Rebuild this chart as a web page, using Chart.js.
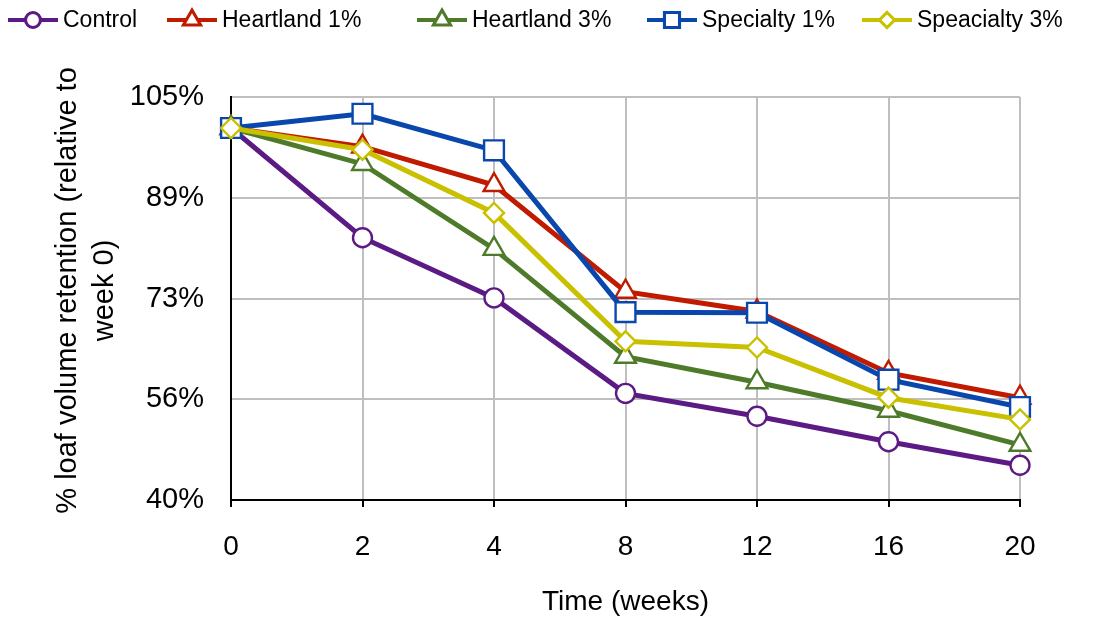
<!DOCTYPE html>
<html lang="en">
<head>
    <meta charset="UTF-8">
    <title>Loaf volume retention</title>
    <script src="https://cdn.jsdelivr.net/npm/chart.js"></script>
    <style>
        html, body { margin: 0; padding: 0; background: #fff; }
        #wrap { width: 1106px; height: 619px; position: relative; }
    </style>
</head>
<body>

<div id="wrap">
    <canvas id="retentionChart"></canvas>
</div>

<script>
    // Data
    var weeks = ['0', '2', '4', '8', '12', '16', '20'];
    var seriesNames = ['Control', 'Heartland 1%', 'Heartland 3%', 'Specialty 1%', 'Speacialty 3%'];
    var control     = [100, 82.3, 72.6, 57.2, 53.5, 49.4, 45.6];
    var heartland1  = [100, 97.0, 90.8, 73.6, 70.4, 60.5, 56.5];
    var heartland3  = [100, 94.2, 80.5, 63.1, 59.0, 54.4, 48.9];
    var specialty1  = [100, 102.3, 96.4, 70.3, 70.2, 59.4, 55.0];
    var specialty3  = [100, 96.5, 86.3, 65.6, 64.6, 56.5, 53.0];
    var yTicks = [40, 56.25, 72.5, 88.75, 105];

    var colors = ['#5b1a84', '#c01b00', '#4e7b2a', '#0a47ad', '#c9c000'];
    var shapes = ['circle', 'triangle', 'triangle', 'rect', 'rectRot'];
    var radii  = [9.5, 12, 12, 14, 10];
    var values = [control, heartland1, heartland3, specialty1, specialty3];

    // where each legend entry starts (line start, px)
    var legendX = [8, 167, 417, 647, 862];

    var datasets = seriesNames.map(function (name, i) {
        return {
            label: name,
            data: values[i],
            order: seriesNames.length - i, // later series drawn on top
            borderColor: colors[i],
            backgroundColor: '#ffffff',
            borderWidth: 5,
            pointStyle: shapes[i],
            pointRadius: radii[i],
            pointBorderWidth: 2.4,
            pointBorderColor: colors[i],
            pointBackgroundColor: '#ffffff',
            tension: 0
        };
    });

    // legend with a line through the marker, like the original
    var lineLegend = {
        id: 'lineLegend',
        afterDraw: function (chart) {
            var ctx = chart.ctx;
            var y = 20;
            ctx.save();
            ctx.font = '23px "Liberation Sans", Arial, sans-serif';
            ctx.textBaseline = 'middle';
            chart.data.datasets.forEach(function (ds, i) {
                var x = legendX[i];
                ctx.strokeStyle = ds.borderColor;
                ctx.lineWidth = 4;
                ctx.beginPath();
                ctx.moveTo(x, y);
                ctx.lineTo(x + 50, y);
                ctx.stroke();
                var r = Math.round(ds.pointRadius * 0.72);
                Chart.helpers.drawPoint(ctx, {
                    pointStyle: ds.pointStyle,
                    radius: r,
                    borderWidth: 2.2
                }, x + 25, y);
                ctx.fillStyle = '#ffffff';
                ctx.fill();
                ctx.lineWidth = 2.2;
                ctx.stroke();
                ctx.fillStyle = '#000000';
                ctx.fillText(ds.label, x + 55, y + 1);
            });
            ctx.restore();
        }
    };

    var ctx = document.getElementById('retentionChart').getContext('2d');
    new Chart(ctx, {
        type: 'line',
        data: { labels: weeks, datasets: datasets },
        plugins: [lineLegend],
        options: {
            responsive: true,
            maintainAspectRatio: false,
            animation: false,
            layout: { padding: { top: 97, right: 86, left: 0, bottom: 0 } },
            plugins: {
                legend: { display: false },
                tooltip: { enabled: false }
            },
            scales: {
                x: {
                    offset: false,
                    afterFit: function (s) { s.height = 119; },
                    grid: { color: '#bfbfbf', lineWidth: 2, tickColor: '#000000', tickLength: 7 },
                    border: { color: '#000000', width: 2 },
                    ticks: {
                        color: '#000000',
                        padding: 23,
                        maxRotation: 0,
                        font: { family: '"Liberation Sans", Arial, sans-serif', size: 28 }
                    },
                    title: {
                        display: true,
                        text: 'Time (weeks)',
                        color: '#000000',
                        padding: { top: 0, bottom: 0 },
                        font: { family: '"Liberation Sans", Arial, sans-serif', size: 28 }
                    }
                },
                y: {
                    min: 40,
                    max: 105,
                    afterFit: function (s) { s.width = 231; },
                    afterBuildTicks: function (s) {
                        s.ticks = yTicks.map(function (v) { return { value: v }; });
                    },
                    grid: { color: '#bfbfbf', lineWidth: 2, drawTicks: false },
                    border: { color: '#000000', width: 2 },
                    ticks: {
                        color: '#000000',
                        padding: 27,
                        font: { family: '"Liberation Sans", Arial, sans-serif', size: 29 },
                        callback: function (v) { return Math.round(v) + '%'; }
                    },
                    title: {
                        display: true,
                        // leading spaces nudge the rotated title up a little
                        text: ['  % loaf volume retention (relative to', '  week 0)'],
                        color: '#000000',
                        padding: { top: 49, bottom: 0 },
                        font: { family: '"Liberation Sans", Arial, sans-serif', size: 29, lineHeight: 1.28 }
                    }
                }
            }
        }
    });
</script>
</body>
</html>
